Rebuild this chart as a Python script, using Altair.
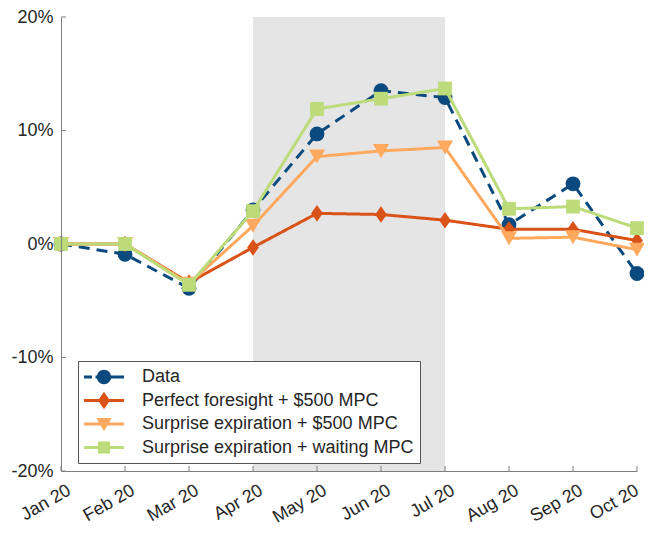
import altair as alt
import pandas as pd

# ---------------- data ----------------
months = ["Jan 20", "Feb 20", "Mar 20", "Apr 20", "May 20",
          "Jun 20", "Jul 20", "Aug 20", "Sep 20", "Oct 20"]
series_names = ["Data",
                "Perfect foresight + $500 MPC",
                "Surprise expiration + $500 MPC",
                "Surprise expiration + waiting MPC"]
data_vals = [0.0, -0.9, -3.9, 3.0, 9.7, 13.5, 12.9, 1.7, 5.3, -2.6]
pf_vals = [0.0, 0.0, -3.4, -0.3, 2.7, 2.6, 2.1, 1.3, 1.3, 0.3]
se500_vals = [0.0, 0.0, -3.5, 1.6, 7.7, 8.2, 8.5, 0.5, 0.6, -0.5]
sew_vals = [0.0, 0.0, -3.6, 2.9, 11.9, 12.8, 13.7, 3.1, 3.3, 1.4]
y_ticks = [-20, -10, 0, 10, 20]
shade_months = ["Apr 20", "Jul 20"]

# ---------------- styles ----------------
colors = ["#0B4A7E", "#D95319", "#FFA95E", "#BCDB79"]
dashes = [[11, 7], [1, 0], [1, 0], [1, 0]]
diamond = "M0,-1.2L0.85,0L0,1.2L-0.85,0Z"
marker_shapes = ["circle", diamond, "triangle-down", "square"]
marker_sizes = [220, 190, 260, 190]

# legend symbols: unit = 10 px (symbolSize 400); line spans x -1..3, marker at x=1
circ = "M1.72,0A0.72,0.72 0 1,1 0.28,0A0.72,0.72 0 1,1 1.72,0Z"
line_full = "M-1,-0.15H3V0.15H-1Z"
legend_paths = [
    "M-1,-0.15H-0.2V0.15H-1Z M0.15,-0.15H3V0.15H0.15Z " + circ,
    line_full + " M1,-0.88L1.6,0L1,0.88L0.4,0Z",
    line_full + " M0.24,-0.6L1.76,-0.6L1,0.72Z",
    line_full + " M0.4,-0.6H1.6V0.6H0.4Z",
]

FONT = "Liberation Sans"
TXT = "#262626"
AX = "#7f7f7f"
W, H = 576, 454
N = len(months)

rows = []
for s, vals in zip(series_names, [data_vals, pf_vals, se500_vals, sew_vals]):
    for i, v in enumerate(vals):
        rows.append({"series": s, "idx": i, "value": v})
df = pd.DataFrame(rows)

x_scale = alt.Scale(domain=[0, N - 1], nice=False, zero=False)
y_scale = alt.Scale(domain=[-20, 20], nice=False)

label_expr = "[" + ",".join("'%s'" % m for m in months) + "][datum.value]"
x_axis = alt.Axis(values=list(range(N)), labelExpr=label_expr,
                  labelAngle=330, labelAlign="right", labelBaseline="middle",
                  labelPadding=18,
                  labelOffset={"condition": {"test": "datum.value == %d" % (N - 1), "value": 0},
                               "value": 8},
                  tickSize=0, grid=False,
                  domainColor=AX, labelColor=TXT, labelFontSize=18,
                  labelFont=FONT, title=None, zindex=1, labelFlush=False,
                  labelOverlap=False)
y_axis = alt.Axis(values=y_ticks, labelExpr="datum.value + '%'", tickSize=0,
                  labelPadding=8, grid=False, domainColor=AX, labelColor=TXT,
                  labelFontSize=18, labelFont=FONT, title=None, zindex=1,
                  labelFlush=False, labelOverlap=False)

shade_df = pd.DataFrame({"x0": [months.index(shade_months[0])],
                         "x1": [months.index(shade_months[1])],
                         "y0": [y_ticks[0]], "y1": [y_ticks[-1]]})
shade = alt.Chart(shade_df).mark_rect(color="#E5E5E5").encode(
    x=alt.X("x0:Q", scale=x_scale, axis=x_axis), x2="x1",
    y=alt.Y("y0:Q", scale=y_scale, axis=y_axis), y2="y1")

ytick = alt.Chart(pd.DataFrame({"v": y_ticks})).mark_rule(color=AX, strokeWidth=1).encode(
    y=alt.Y("v:Q", scale=y_scale, axis=y_axis), x=alt.value(0), x2=alt.value(5))
xtick = alt.Chart(pd.DataFrame({"i": list(range(N))})).mark_rule(color=AX, strokeWidth=1).encode(
    x=alt.X("i:Q", scale=x_scale, axis=x_axis), y=alt.value(H), y2=alt.value(H - 5))

layers = [shade, ytick, xtick]
for s, col, dash, shp, sz in zip(series_names, colors, dashes, marker_shapes, marker_sizes):
    base = alt.Chart(df).transform_filter(alt.datum.series == s)
    ln = base.mark_line(color=col, strokeWidth=3, strokeDash=dash).encode(
        x=alt.X("idx:Q", scale=x_scale, axis=x_axis),
        y=alt.Y("value:Q", scale=y_scale, axis=y_axis))
    pt = base.mark_point(filled=True, color=col, shape=shp, size=sz, opacity=1).encode(
        x=alt.X("idx:Q", scale=x_scale, axis=x_axis),
        y=alt.Y("value:Q", scale=y_scale, axis=y_axis))
    layers += [ln, pt]

leg = alt.Legend(title=None, orient="none", legendX=17, legendY=344,
                 symbolSize=400, symbolStrokeWidth=0, symbolOpacity=1,
                 labelFontSize=18, labelFont=FONT, labelColor=TXT,
                 labelOffset=38, labelLimit=500, padding=6, rowPadding=4.5,
                 strokeColor="#555555", fillColor="white")
legend_layer = alt.Chart(pd.DataFrame({"series": series_names})).transform_filter(
    "false").mark_point(filled=True, opacity=1).encode(
    fill=alt.Fill("series:N", scale=alt.Scale(domain=series_names, range=colors), legend=leg),
    shape=alt.Shape("series:N", scale=alt.Scale(domain=series_names, range=legend_paths), legend=leg))
layers.append(legend_layer)

chart = alt.layer(*layers).properties(
    width=W, height=H, autosize="none",
    padding={"left": 53, "top": 9, "right": 7, "bottom": 56},
    background="white"
).configure_view(stroke=None)

chart.save("out.html", embed_options={"renderer": "svg", "actions": False})
